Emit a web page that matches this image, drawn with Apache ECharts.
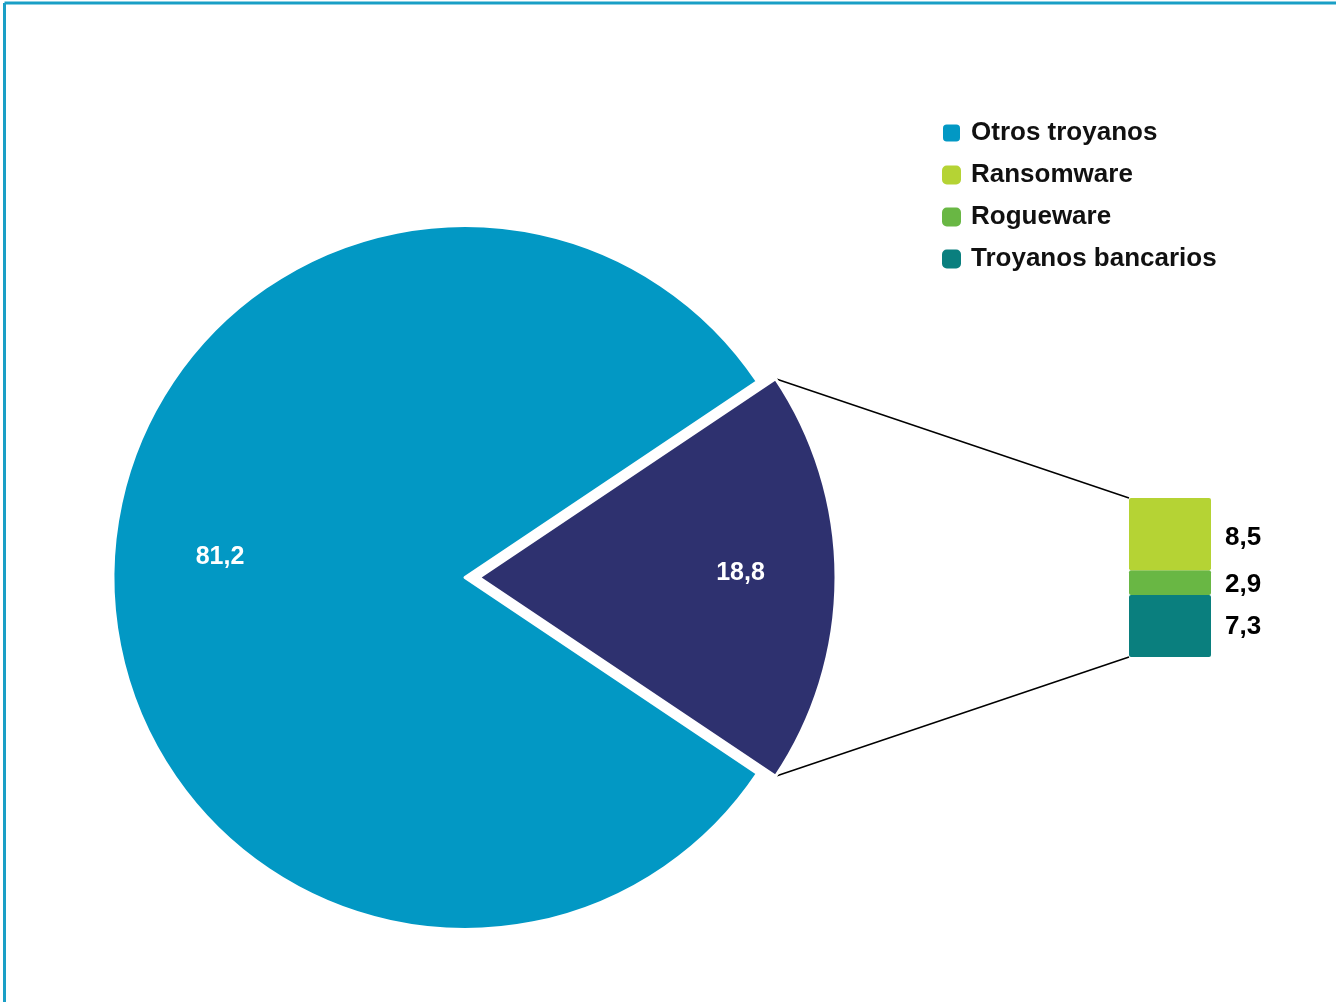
<!DOCTYPE html>
<html>
<head>
<meta charset="utf-8">
<script src="https://cdn.jsdelivr.net/npm/echarts@6/dist/echarts.min.js"></script>
<style>
  html, body { margin: 0; padding: 0; background: #fff; }
  #chart { width: 1336px; height: 1002px; }
</style>
</head>
<body>
<div id="chart"></div>
<script>
// pie: total and the exploded part
const pieNames = ['Otros troyanos', 'Resto'];
const pieValues = [81.2, 18.8];
// breakdown of the exploded part (top to bottom)
const barNames = ['Ransomware', 'Rogueware', 'Troyanos bancarios'];
const barValues = [8.5, 2.9, 7.3];
const legendNames = ['Otros troyanos', 'Ransomware', 'Rogueware', 'Troyanos bancarios'];

const colors = {
  'Otros troyanos': '#0298c4',
  'Resto': '#2e316f',
  'Ransomware': '#b5d334',
  'Rogueware': '#69b744',
  'Troyanos bancarios': '#0a7f7e'
};
const font = 'Liberation Sans, Arial, sans-serif';
const fmt = v => v.toFixed(1).replace('.', ',');

// main pie and the pulled-out slice (drawn a little bigger, like the original)
const cx = 465, cy = 577.5, R = 352;
const explode = 14, R2 = 357;
const pieTotal = pieValues.reduce((a, b) => a + b, 0);
const barTotal = barValues.reduce((a, b) => a + b, 0);
// exploded slice centred on the right side
const half = pieValues[1] / pieTotal * 180;

const chart = echarts.init(document.getElementById('chart'));

const hidden = { color: 'transparent', borderWidth: 0 };

// one pie per part, the other part left empty
function pieSeries(showName, center, radius, labelOffset) {
  return {
    type: 'pie',
    center: center,
    radius: radius,
    startAngle: half,
    clockwise: true,
    silent: true,
    emphasis: { disabled: true },
    itemStyle: { borderColor: '#fff', borderWidth: 3 },
    labelLine: { show: false },
    data: [pieNames[1], pieNames[0]].map(n => {
      const v = pieValues[pieNames.indexOf(n)];
      if (n !== showName) {
        return { name: n, value: v, itemStyle: hidden, label: { show: false } };
      }
      return {
        name: n, value: v,
        itemStyle: { color: colors[n] },
        label: {
          show: true, position: 'inside', offset: labelOffset,
          formatter: p => fmt(p.value),
          color: '#fff', fontSize: 25, fontWeight: 'bold', fontFamily: font
        }
      };
    })
  };
}

// bars stack from the bottom, so reverse the order
const barLabelShift = [4, 2, 1];
const barSeries = barNames.map((n, i) => ({
  name: n,
  type: 'bar',
  stack: 'desglose',
  barWidth: '100%',
  data: [barValues[i]],
  itemStyle: { color: colors[n], borderRadius: 2 },
  label: {
    show: true, position: 'right', distance: 14,
    offset: [0, barLabelShift[i]],
    formatter: p => fmt(p.value),
    color: '#000', fontSize: 26, fontWeight: 'bold', fontFamily: font
  }
})).reverse();

chart.setOption({
  animation: false,
  legend: {
    data: legendNames.map(n => ({ name: n, itemStyle: { color: colors[n] } })),
    orient: 'vertical',
    left: 936, top: 115,
    padding: 5,
    itemWidth: 19, itemHeight: 19, itemGap: 16,
    icon: 'roundRect',
    selectedMode: false,
    textStyle: {
      fontSize: 26, fontWeight: 'bold', color: '#111', fontFamily: font,
      lineHeight: 26, padding: [0, 0, 0, 5]
    }
  },
  grid: { left: 1129, top: 498, width: 82, height: 159 },
  xAxis: { type: 'category', data: [''], show: false },
  yAxis: { type: 'value', min: 0, max: barTotal, show: false },
  series: [
    pieSeries(pieNames[0], [cx, cy], R, [-66, -20]),
    pieSeries(pieNames[1], [cx + explode, cy], R2, [80, -4])
  ].concat(barSeries)
});

// connector lines from the exploded slice corners to the bar corners
const rad = half * Math.PI / 180;
const sx = cx + explode + R2 * Math.cos(rad);
const sy = R2 * Math.sin(rad);
const topPt = chart.convertToPixel({ xAxisIndex: 0, yAxisIndex: 0 }, [0, barTotal]);
const botPt = chart.convertToPixel({ xAxisIndex: 0, yAxisIndex: 0 }, [0, 0]);
const barLeft = 1129;

chart.setOption({
  graphic: [
    { type: 'line', shape: { x1: 4.5, y1: 3, x2: 1336, y2: 3 }, style: { stroke: '#1a9fc6', lineWidth: 3 } },
    { type: 'line', shape: { x1: 4.5, y1: 3, x2: 4.5, y2: 1002 }, style: { stroke: '#1a9fc6', lineWidth: 3 } },
    { type: 'line', z: -1, shape: { x1: sx, y1: cy - sy, x2: barLeft, y2: topPt[1] }, style: { stroke: '#000', lineWidth: 1.5 } },
    { type: 'line', z: -1, shape: { x1: sx, y1: cy + sy, x2: barLeft, y2: botPt[1] }, style: { stroke: '#000', lineWidth: 1.5 } }
  ]
});
</script>
</body>
</html>
